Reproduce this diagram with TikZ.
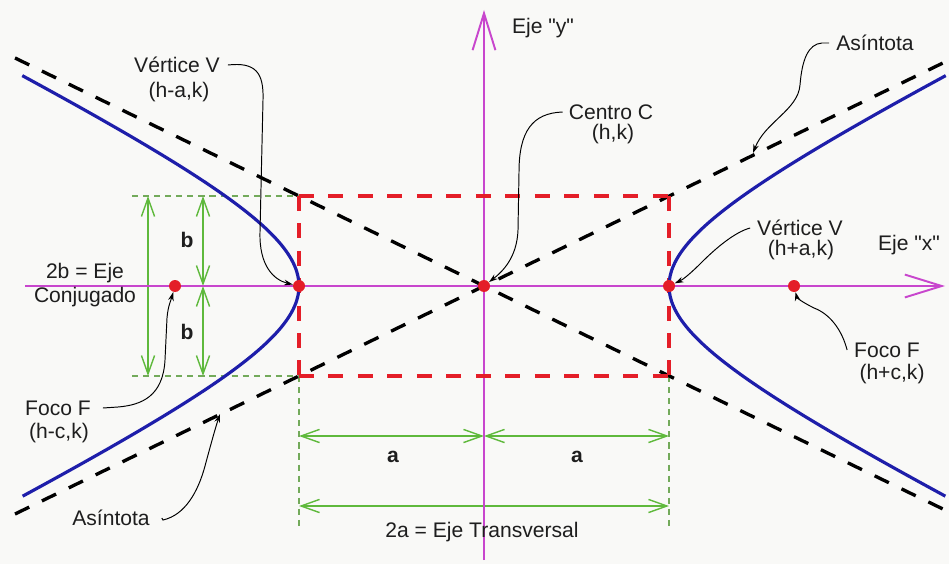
\documentclass[tikz,border=0pt]{standalone}
\usepackage{fontspec}
\setmainfont{Liberation Sans}[Ligatures=TeXOff]
\usetikzlibrary{arrows.meta}
\definecolor{axisc}{RGB}{200,70,205}
\definecolor{bluec}{RGB}{30,30,170}
\definecolor{redc}{RGB}{228,30,40}
\definecolor{dimg}{RGB}{95,185,60}
\definecolor{extg}{RGB}{115,170,90}
\definecolor{txt}{RGB}{30,30,30}
\definecolor{bgc}{RGB}{249,249,247}
\tikzset{
  lbl/.style={text=txt, inner sep=1pt, font=\fontsize{12}{14}\selectfont},
  leader/.style={draw=black, line width=0.55pt, -{Stealth[length=5pt,width=3.2pt]}},
  dimline/.style={draw=dimg, line width=0.8pt, {Straight Barb[length=10.5pt,width=7.5pt]}-{Straight Barb[length=10.5pt,width=7.5pt]}},
  extline/.style={draw=extg, line width=0.6pt, dash pattern=on 3.5pt off 2.8pt},
  asym/.style={draw=black, line width=1.9pt, dash pattern=on 9pt off 8pt},
  recth/.style={draw=redc, line width=2.2pt, dash pattern=on 8.5pt off 8.28pt},
  rectv/.style={draw=redc, line width=2.2pt, dash pattern=on 8.5pt off 7.1pt},
  hyp/.style={draw=bluec, line width=1.8pt},
  axisline/.style={draw=axisc, line width=1.1pt, -{Straight Barb[length=21pt,width=13pt]}},
  dot/.style={circle, fill=redc, inner sep=0pt, minimum size=0.24cm},
}
\begin{document}
\begin{tikzpicture}[x=0.02cm,y=-0.02cm]
\fill[bgc] (0,0) rectangle (949,564);
\useasboundingbox (0,0) rectangle (949,564);

% key coordinates
\coordinate (R1) at (299,196);
\coordinate (R2) at (669,196);
\coordinate (R3) at (669,376);
\coordinate (R4) at (299,376);

% green extension lines
\coordinate (E1) at (132,196);
\coordinate (E2) at (132,376);
\coordinate (E3) at (299,527);
\coordinate (E4) at (669,527);
\draw[extline] (E1) -- (R1);
\draw[extline] (E2) -- (R4);
\draw[extline] (R4) -- (E3);
\draw[extline] (R3) -- (E4);

% green dimension lines
\coordinate (D1t) at (148,196); \coordinate (D1b) at (148,376);
\coordinate (D2t) at (203,196); \coordinate (D2m) at (203,286); \coordinate (D2b) at (203,376);
\coordinate (H1l) at (299,436); \coordinate (H1m) at (484,436); \coordinate (H1r) at (669,436);
\coordinate (H2l) at (299,506); \coordinate (H2r) at (669,506);
\draw[dimline] (D1t) -- (D1b);
\draw[dimline] (D2t) -- (D2m);
\draw[dimline] (D2m) -- (D2b);
\draw[dimline] (H1l) -- (H1m);
\draw[dimline] (H1m) -- (H1r);
\draw[dimline] (H2l) -- (H2r);

% axes
\coordinate (X0) at (25,286); \coordinate (X1) at (945,286);
\coordinate (Y0) at (484,560); \coordinate (Y1) at (484,10);
\draw[axisline] (X0) -- (X1);
\draw[axisline] (Y0) -- (Y1);

% asymptotes
\coordinate (A1) at (15,58); \coordinate (A2) at (947,511);
\coordinate (A3) at (15,514); \coordinate (A4) at (947,61);
\draw[asym] (A1) -- (A2);
\draw[asym] (A3) -- (A4);

% red rectangle
\draw[recth] (R1) -- (R2);
\draw[recth] (R4) -- (R3);
\draw[rectv] (R1) -- (R4);
\draw[rectv] (R2) -- (R3);

% hyperbola
\draw[hyp] plot[domain=-1.565:1.565, samples=70, variable=\t, smooth]
  ({484-185*(exp(\t)+exp(-\t))/2}, {286+92*(exp(\t)-exp(-\t))/2});
\draw[hyp] plot[domain=-1.565:1.565, samples=70, variable=\t, smooth]
  ({484+185*(exp(\t)+exp(-\t))/2}, {286+92*(exp(\t)-exp(-\t))/2});

% points
\node[dot] (F1) at (175,286) {};
\node[dot] (V1) at (299,286) {};
\node[dot] (C)  at (484,286) {};
\node[dot] (V2) at (669,286) {};
\node[dot] (F2) at (794,286) {};
\coordinate (asT) at (753,153);
\coordinate (abT) at (220,414);

% labels
\node[lbl] (vlA) at (177,65) {Vértice V};
\node[lbl] (vlB) at (179,92) {(h-a,k)};
\node[lbl] (cA) at (611,112) {Centro C};
\node[lbl] (cB) at (613,134) {(h,k)};
\node[lbl] (eyA) at (543,28) {Eje "y"};
\node[lbl] (asA) at (875,43) {Asíntota};
\node[lbl] (vrA) at (800,228) {Vértice V};
\node[lbl] (vrB) at (801,250) {(h+a,k)};
\node[lbl] (exA) at (909,245) {Eje "x"};
\node[lbl] (frA) at (887,350) {Foco F};
\node[lbl] (frB) at (892,374) {(h+c,k)};
\node[lbl] (flA) at (58,408) {Foco F};
\node[lbl] (flB) at (59,433) {(h-c,k)};
\node[lbl] (abA) at (111,518) {Asíntota};
\node[lbl] (cjA) at (85,273) {2b = Eje};
\node[lbl] (cjB) at (85,297) {Conjugado};
\node[lbl,font=\fontsize{12}{14}\selectfont\bfseries] (bA) at (187,240) {b};
\node[lbl,font=\fontsize{12}{14}\selectfont\bfseries] (bB) at (187,332) {b};
\node[lbl,font=\fontsize{12}{14}\selectfont\bfseries] (aA) at (393,457) {a};
\node[lbl,font=\fontsize{12}{14}\selectfont\bfseries] (aB) at (577,457) {a};
\node[lbl] (tA) at (482,532) {2a = Eje Transversal};

% leaders
\draw[leader] ([xshift=0.12cm]vlA.east) .. controls (255,62) and (264,72) .. (263,100)
   -- (260,232) .. controls (259,266) and (274,280) .. (V1);
\draw[leader] ([xshift=-0.08cm]cA.west) .. controls (532,113) and (519,132) .. (519,172)
   -- (518,230) .. controls (517,258) and (502,272) .. (C);
\draw[leader] ([xshift=-0.1cm]asA.west) -- (822,43) .. controls (808,44) and (802,60) .. (800,85)
   .. controls (798,110) and (765,122) .. (asT);
\draw[leader] ([xshift=-0.1cm]vrA.west) .. controls (735,232) and (716,248) .. (702,262)
   .. controls (692,272) and (684,279) .. (V2);
\draw[leader] ([xshift=-0.1cm]frA.west) .. controls (842,330) and (830,314) .. (814,308)
   .. controls (802,302) and (797,298) .. (F2);
\draw[leader] ([xshift=0.2cm]flA.east) -- (118,407) .. controls (142,405) and (163,396) .. (165,360)
   -- (167,318) .. controls (168,306) and (171,300) .. (F1);
\draw[leader] ([xshift=0.2cm]abA.east) -- (163,520) .. controls (185,515) and (198,492) .. (205,466)
   .. controls (212,440) and (216,426) .. (abT);
\end{tikzpicture}
\end{document}
